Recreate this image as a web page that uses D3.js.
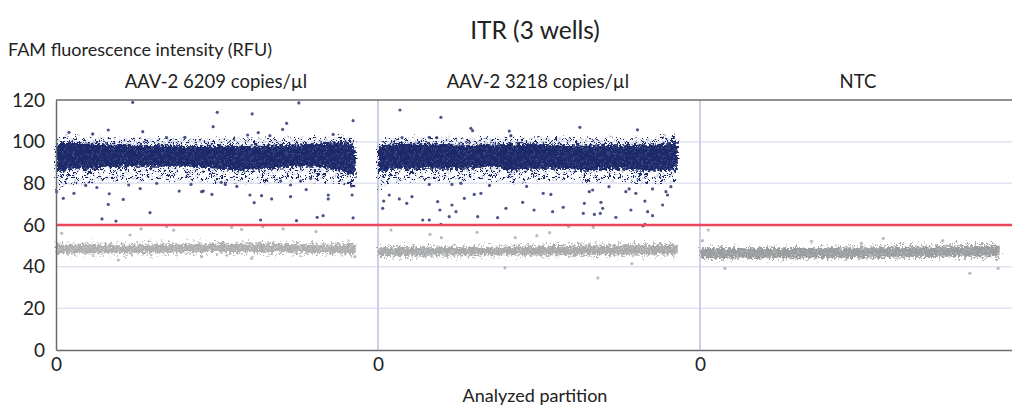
<!DOCTYPE html>
<html>
<head>
<meta charset="utf-8">
<script src="https://cdn.jsdelivr.net/npm/d3@7"></script>
<style>
  html, body { margin: 0; padding: 0; background: #fff; }
  svg { display: block; }
  text { font-family: Lato, "Open Sans", sans-serif; fill: #222; }
</style>
</head>
<body>
<svg id="chart" width="1012" height="407"></svg>
<script>
// ---------------- DATA ----------------
const title = "ITR (3 wells)";
const yTitle = "FAM fluorescence intensity (RFU)";
const xTitle = "Analyzed partition";
const wells = ["AAV-2 6209 copies/µl", "AAV-2 3218 copies/µl", "NTC"];
const yTicks = [0, 20, 40, 60, 80, 100, 120];
const xTicks = [0];
const threshold = 60;

// band rows: [partition, outerLow, coreLow, coreHigh, outerHigh]
const posBand1 = [
  [0, 77, 85, 99, 102], [1000, 79, 87, 99.5, 103], [3000, 80, 87, 99, 102.5],
  [5000, 81, 88, 98.5, 102], [7000, 81, 88, 98.5, 102], [9000, 81, 88, 98, 101.5],
  [11000, 81, 88, 98, 101.5], [13000, 80, 87, 98, 101.5], [15000, 80, 86, 98, 101.5],
  [17000, 80, 87, 98, 101.5], [19000, 81, 88, 98.5, 102], [21000, 81, 88, 99, 102.5],
  [23000, 80, 86, 100, 103], [23900, 78, 84, 99, 102], [24200, 76, 82, 96, 99]
];
const posBand2 = [
  [0, 77, 85, 98, 101], [1000, 80, 87, 99, 102], [3000, 81, 87, 99, 102],
  [5000, 81, 87, 99, 102.5], [7000, 81, 87, 98.5, 102], [9000, 81, 88, 98.5, 102],
  [11000, 80, 86, 99, 102.5], [13000, 81, 87, 99, 102], [15000, 81, 87, 98.5, 102],
  [17000, 80, 86, 98, 101.5], [19000, 81, 87, 98.5, 102], [21000, 80, 86, 98, 101.5],
  [23000, 80, 86, 99, 103], [24200, 81, 87, 100, 103]
];
const negBand1 = [
  [0, 44.5, 46.5, 50.5, 52], [6000, 44.5, 46.5, 50.5, 52.5], [12000, 45, 47, 51, 53],
  [18000, 45, 47, 51, 52.5], [22000, 44.5, 46.5, 50.5, 52], [24200, 44.5, 46, 51, 53]
];
const negBand2 = [
  [0, 43.5, 45, 49.5, 51], [8000, 44, 45.5, 49.5, 51], [16000, 44, 45.5, 50, 51.5],
  [24200, 44, 46, 50.5, 52]
];
const negBand3 = [
  [0, 42.5, 44, 49, 50.5], [8000, 42.5, 44, 49, 50.5], [16000, 43, 44.5, 49.5, 51],
  [24200, 43, 45, 50, 52]
];

// scattered partitions outside the dense bands: [partition, RFU]
const posRain1 = [
  [6190, 118.9], [1050, 104.5], [4220, 105.6], [2960, 103.7], [7000, 104.8], [8930, 101.9],
  [10410, 102.1], [590, 72.8], [1450, 75.2], [4300, 75], [4220, 69.9], [5430, 72.3],
  [7590, 65.9], [3710, 62.9], [4840, 61.9], [9950, 76.3], [11760, 76], [50, 76],
  [5870, 79.2], [8130, 80], [19610, 118.6], [13020, 114.1], [15840, 113.3], [12690, 107.2],
  [23990, 110.1], [18300, 105.9], [18620, 108.8], [16330, 104.3], [15470, 103.2],
  [17270, 102.9], [22380, 103.5], [11890, 76.3], [12590, 74.7], [15660, 74.4], [16600, 74.1],
  [16000, 70.7], [17410, 72.5], [18940, 73.6], [21980, 74.4], [21980, 72.5], [23910, 74.4],
  [16520, 62.4], [19420, 62.1], [21090, 63.7], [21570, 64.5], [23990, 63.4], [13350, 80.5],
  [13670, 79.5], [18140, 81.1], [18940, 79.2], [19750, 81.1], [20560, 82.4], [23860, 78.7],
  [2400, 79], [3300, 78], [6800, 77.5], [10900, 79.5], [14600, 78.5], [20200, 77]
];
const posRain2 = [
  [1775, 115.2], [5080, 111.7], [7500, 106.4], [7640, 105.3], [10600, 105.1], [10730, 102.9],
  [1940, 101.9], [4140, 102.1], [4740, 101.9], [460, 71.5], [380, 68], [910, 74.4],
  [1720, 72.5], [2320, 70.4], [2740, 73.6], [4820, 71.2], [5000, 67.2], [5970, 69.6],
  [3610, 62.4], [4140, 62.4], [5080, 60.3], [5750, 64], [6300, 66.4], [6970, 72.8],
  [7770, 74.7], [8050, 64], [8310, 75.2], [9660, 63.5], [10330, 68], [11680, 70.9],
  [4140, 79.5], [5970, 79.5], [6700, 80], [16300, 106.9], [20950, 105.7], [13340, 75.2],
  [13960, 74.7], [12600, 67.2], [14100, 66.4], [14960, 68.5], [16660, 70.4], [16580, 65.6],
  [17470, 65.1], [17950, 65.6], [18140, 68], [18000, 70.9], [17060, 76], [17330, 76.8],
  [19210, 63.7], [20010, 76], [20280, 77.3], [20820, 75.2], [20420, 67.2], [21550, 71.5],
  [21770, 66.4], [22170, 64.5], [21550, 60.3], [22980, 69.6], [23380, 74.4], [23650, 78.4],
  [23250, 76], [22170, 77.3], [18650, 78.4], [21400, 59.6], [9000, 79], [12000, 78.5]
];
const negRain1 = [
  [460, 56], [5980, 55.2], [6870, 58.1], [14990, 57.9], [14180, 58.9], [18340, 58.1],
  [16700, 59.2], [8930, 59.2], [5030, 43.2], [11760, 44.8], [15800, 44], [24130, 44.8],
  [190, 46.4], [9500, 57.5], [21000, 56.8]
];
const negRain2 = [
  [1050, 57.6], [5110, 53.9], [11080, 53.9], [12830, 54.9], [13860, 56.3], [15390, 59.2],
  [17380, 58.9], [17750, 34.6], [10250, 39.4], [4200, 55.5], [8000, 56.5], [20500, 41.5]
];
const negRain3 = [
  [670, 57.6], [14800, 53.6], [13040, 51.2], [190, 52.5], [2020, 39.2], [21790, 36.8],
  [24070, 39.2], [9000, 52.2], [19600, 52.5]
];

// ---------------- LAYOUT ----------------
const W = 1012, H = 407;
const m = { left: 56, top: 100, bottom: 57 };
const plotBottom = H - m.bottom;
const wellWidth = 322;
const navy = "#1f2a6a";
const grey = "#9c9d9f";

const svg = d3.select("#chart");
const defs = svg.append("defs");

// irregular dot textures (style only)
const tileDots = [[1,2],[6,1],[11,3],[17,1],[21,4],[3,7],[9,6],[14,8],[19,7],[23,10],
  [1,12],[7,11],[12,13],[16,11],[20,14],[4,16],[9,17],[15,16],[22,17],[6,20],[12,21],[18,20]];
function texture(id, color, r, bg) {
  const p = defs.append("pattern").attr("id", id).attr("patternUnits", "userSpaceOnUse")
    .attr("width", 25).attr("height", 22);
  if (bg) p.append("rect").attr("width", 25).attr("height", 22).attr("fill", bg);
  tileDots.forEach(([cx, cy]) =>
    p.append("circle").attr("cx", cx).attr("cy", cy).attr("r", r).attr("fill", color));
}
texture("posDots", navy, 1.35, null);
texture("negDots", grey, 1.1, null);
texture("coreSpeck", "#6a73a3", 0.7, navy);
texture("greySpeck", "#cfd0d2", 0.8, grey);

const rough = defs.append("filter").attr("id", "rough")
  .attr("x", "-3%").attr("y", "-40%").attr("width", "106%").attr("height", "180%");
rough.append("feTurbulence").attr("type", "fractalNoise").attr("baseFrequency", 0.45)
  .attr("numOctaves", 2).attr("seed", 7).attr("result", "n");
rough.append("feDisplacementMap").attr("in", "SourceGraphic").attr("in2", "n")
  .attr("scale", 9).attr("xChannelSelector", "R").attr("yChannelSelector", "G");

const y = d3.scaleLinear().domain([0, 120]).range([plotBottom, m.top]);
const xWell = d3.scaleBand().domain(wells).range([m.left, m.left + wellWidth * 3]).paddingInner(0).paddingOuter(0);
const xPart = d3.scaleLinear().domain([0, 26000]).range([0, wellWidth]);

// horizontal gridlines
svg.append("g").selectAll("line").data(yTicks.filter(t => t > 0 && t < 120)).join("line")
  .attr("x1", m.left).attr("x2", W).attr("y1", d => y(d)).attr("y2", d => y(d))
  .attr("stroke", "#e1e3f1").attr("stroke-width", 1.5);

// well divider lines
svg.append("g").selectAll("line").data(wells.slice(1)).join("line")
  .attr("x1", d => xWell(d)).attr("x2", d => xWell(d)).attr("y1", m.top).attr("y2", plotBottom)
  .attr("stroke", "#ccd0ea").attr("stroke-width", 2);

// data
const bands = [
  { well: 0, rows: posBand1, core: "url(#coreSpeck)", fringe: "url(#posDots)" },
  { well: 1, rows: posBand2, core: "url(#coreSpeck)", fringe: "url(#posDots)" },
  { well: 0, rows: negBand1, core: "url(#greySpeck)", fringe: "url(#negDots)", op: 0.8 },
  { well: 1, rows: negBand2, core: "url(#greySpeck)", fringe: "url(#negDots)", op: 0.85 },
  { well: 2, rows: negBand3, core: "url(#greySpeck)", fringe: "url(#negDots)", op: 1 }
];
const dataG = svg.append("g");
bands.forEach(b => {
  const g = dataG.append("g").attr("transform", `translate(${xWell(wells[b.well])},0)`)
    .attr("filter", "url(#rough)").attr("opacity", b.op || 1);
  const xa = d => xPart(d[0]);
  g.append("path").datum(b.rows).attr("fill", b.fringe)
    .attr("d", d3.area().x(xa).y0(d => y(d[1])).y1(d => y(d[2])));
  g.append("path").datum(b.rows).attr("fill", b.fringe)
    .attr("d", d3.area().x(xa).y0(d => y(d[3])).y1(d => y(d[4])));
  g.append("path").datum(b.rows).attr("fill", b.core)
    .attr("d", d3.area().x(xa).y0(d => y(d[2])).y1(d => y(d[3])));
});
const rains = [
  { well: 0, pts: posRain1, c: navy }, { well: 1, pts: posRain2, c: navy },
  { well: 0, pts: negRain1, c: grey }, { well: 1, pts: negRain2, c: grey }, { well: 2, pts: negRain3, c: grey }
];
rains.forEach(r => {
  dataG.append("g").attr("transform", `translate(${xWell(wells[r.well])},0)`)
    .selectAll("circle").data(r.pts).join("circle")
    .attr("cx", d => xPart(d[0])).attr("cy", d => y(d[1])).attr("r", 1.6)
    .attr("fill", r.c).attr("opacity", r.c === navy ? 0.8 : 0.7);
});

// threshold
svg.append("line").attr("x1", m.left).attr("x2", W).attr("y1", y(threshold)).attr("y2", y(threshold))
  .attr("stroke", "#e8475c").attr("stroke-width", 2.5);

// frame
svg.append("line").attr("x1", m.left).attr("x2", W).attr("y1", m.top).attr("y2", m.top)
  .attr("stroke", "#6b6b6b").attr("stroke-width", 1.5);

// y axis
const yAxis = svg.append("g").attr("transform", `translate(${m.left},0)`)
  .call(d3.axisLeft(y).tickValues(yTicks).tickSize(0).tickPadding(11));
yAxis.select(".domain").attr("stroke", "#6b6b6b").attr("stroke-width", 1.5);
yAxis.selectAll("text").style("font-size", "19px").attr("fill", "#222");

// x axes, one per well
wells.forEach(w => {
  const ax = svg.append("g").attr("transform", `translate(${xWell(w)},${plotBottom})`)
    .call(d3.axisBottom(xPart).tickValues(xTicks).tickSize(0).tickPadding(8));
  ax.select(".domain").attr("stroke", "#6b6b6b").attr("stroke-width", 1.5);
  ax.selectAll("text").style("font-size", "19px").attr("fill", "#222");
});

// well labels
svg.append("g").selectAll("text").data(wells).join("text")
  .attr("x", d => xWell(d) + (d === "NTC" ? 158 : 160)).attr("y", 88)
  .attr("text-anchor", "middle").style("font-size", "18.5px").text(d => d);

// titles
svg.append("text").attr("x", 535).attr("y", 39).attr("text-anchor", "middle")
  .style("font-size", "24.5px").text(title);
svg.append("text").attr("x", 8).attr("y", 56).style("font-size", "18px").text(yTitle);
svg.append("text").attr("x", 535).attr("y", 402).attr("text-anchor", "middle")
  .style("font-size", "18px").text(xTitle);
</script>
</body>
</html>
